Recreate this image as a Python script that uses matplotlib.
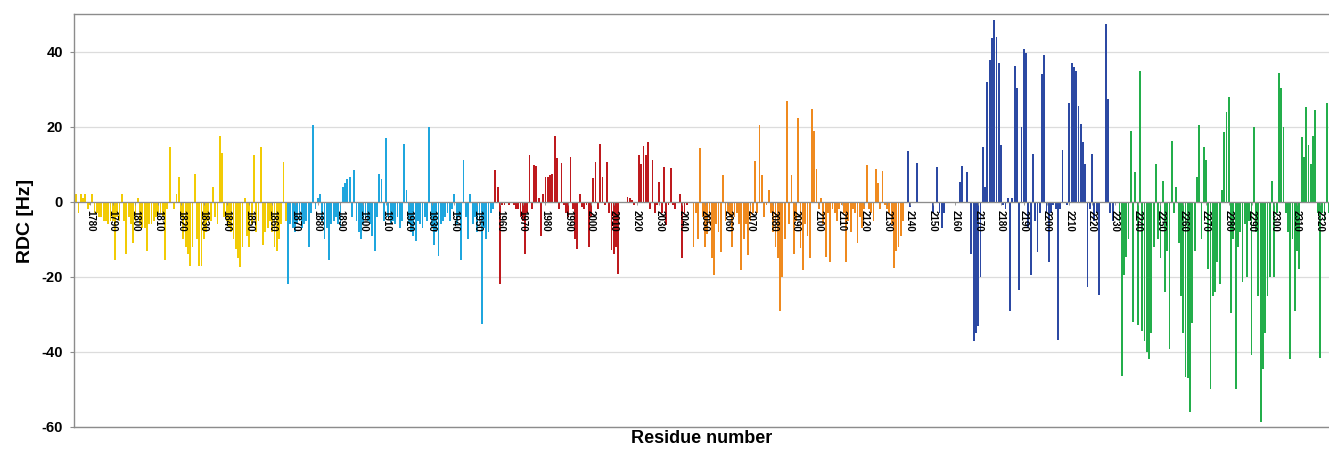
import numpy as np
import matplotlib
matplotlib.use("Agg")
import matplotlib.pyplot as plt

# RDC values (Hz) per residue, one array per domain
yellow_start = 1774
yellow_rdc = [
    2, -3, 2, 1, 2, -2, -1, 2, -3, -3,
    -4, -4, -5, -5, -6, -5, -5, -15.5, -4, -5,
    2, -5, -14, -4, -6, -11, -5, 1, -6, -7,
    -7, -13, -6, -6, -5, -4, -3, -3, -4, -15.5,
    -2, 14.5, 0, -2, 2, 6.5, -4, -10, -12, -14,
    -17, -12, 7.5, -10, -17, -17, -10, -8, -5, -5,
    4, -4, -6, 17.5, 13, -4, -5, -7, -8, -10,
    -12.5, -15, -17.5, -12, 1, -9, -12, -6, 12.5, -8,
    -5, 14.5, -11.5, -8, -7, -5, -8, -12, -13, -10,
    -6, 10.5, -5,
]

lightblue_start = 1867
lightblue_rdc = [
    -22, -6, -7, -8, -6, -5, -7, -6, -5, -12,
    -3, 20.5, -2, 1, 2, -5, -10, -7, -15.5, -6,
    -5, -4, -6, -7, 4, 5, 6, 6.5, -4, 8.5,
    -5, -8, -10, -6, -4, -5, -6, -9, -13, -4,
    7.5, 6, -5, 17, -4, -6, -5, -6, -4, -7,
    -5, 15.5, 3, -6, -8, -9, -10.5, -5, -6, -7,
    -4, -5, 20, -7, -11.5, -8, -14.5, -6, -5, -4,
    -3, -5, -2, 2, -6, -4, -15.5, 11, -4, -10,
    2, -6, -4, -8, -5, -32.5, -7, -10, -8, -3,
    -2,
]

red_start = 1958
red_rdc = [
    8.5, 4, -22, -1, -1, 0, -1, 0, -1, -2,
    -2, -4, -5, -13.8, -3, 12.5, -2, 9.8, 9.5, 1,
    -9, 2, 6.6, 6.5, 7, 7.5, 17.4, 11.6, -2, 10.3,
    -1, -3, -4, 12, -2, -10, -12.6, 2, -1.5, -2,
    -1, -12, -4, 6.3, 10.5, -2, 15.3, 6.5, -1, 10.6,
    -3, -12.9, -14, -12, -19.3, 0, 0, 0, 1.3, 1,
    0.5, -1, 0, 12.4, 10, 14.9, 12.5, 16, -2, 11.2,
    -3, -1, 5.3, -3, 9.2, -6.3, -1, 9, -1, -2,
    0, 2.1, -15, -3, -1, 0, 0,
]

orange_start = 2045
orange_rdc = [
    -12, -3, -10, 14.2, -4, -12, -8.5, -6, -15, -19.6,
    -6, -8, -13.3, 7, -5, -3, -4, -12, -4, -3,
    -6, -18.2, -10, -6, -14.2, -5, -3, 10.9, -3, 20.4,
    7, -4, -1, 3, -3, -8, -12, -15, -29.2, -20,
    -10, 26.9, -6, 7.2, -14, -5, 22.4, -12.4, -18.2, -6,
    -9, -15, 24.6, 18.8, 8.6, -2, 1, -6, -14.6, -3,
    -16, -2, -3, -5, -2, -1, -3, -16, -5, -8,
    -2, -3, -11, -4, -7, -2, 9.8, -2, -3, -5,
    8.7, 5, -2, 8.2, -1, -2, -3, -6, -17.7, -13,
    -12, -9, -5,
]

darkblue_start = 2138
darkblue_rdc = [
    0, 13.5, -1.5, 0, 0, 10.3, 0, 0, 0, 0,
    0, 0, -3, 0, 9.2, -3, -6.9, -3, 0, 0,
    0, 0, 0, 0, 5.3, 9.6, 0, 7.9, 0, -14,
    -37, -35, -33, -20, 14.5, 4, 32, 37.8, 43.6, 48.4,
    44, 37, 15, -1, -2, 1, -29.2, 1, 36.2, 30.4,
    -23.5, 19.8, 40.7, 39.5, -7, -19.5, 12.7, -5, -13.3, -3,
    33.9, 39.2, -3, -16, -3, -1, -2, -36.7, -2, 13.8,
    0, -1, 26.4, 37, 36, 34.7, 25.4, 20.6, 15.8, 10,
    -22.8, -2, 12.7, -5, -3, -24.8, 0, 0, 47.4, 27.4,
    -3, -5, 0, 0,
]

green_start = 2232
green_rdc = [
    -5, -46.4, -19.5, -14.6, -10, 18.8, -32, 7.9, -32.8, 34.7,
    -34.5, -37.2, -40, -42, -35, -12, 10, -10, -15, 5.6,
    -24, -13, -39.3, 16.2, -3, 3.9, -11, -25, -35, -46.8,
    -47, -56, -32.3, -13, 6.5, 20.4, -10, 14.5, 11, -18,
    -50, -25, -24, -16, -22, 3, 18.5, 24, 28, -29.6,
    -10, -50, -12, -8, -21.3, -6, -20, -5, -40.7, 19.8,
    -8, -25, -58.7, -44.6, -35, -25, -20, 5.6, -20, -3,
    34.4, 30.4, 19.8, -3, -8, -42, -10, -29.2, -13, -18,
    17.2, 12, 25.2, 15, 10, 17.5, 24.4, -3, -41.6, -3,
    -5, 26.2, -3,
]

domains = [
    (yellow_start, yellow_rdc, "#F2CB05"),
    (lightblue_start, lightblue_rdc, "#1FA6DE"),
    (red_start, red_rdc, "#BE1A1E"),
    (orange_start, orange_rdc, "#EF8A1F"),
    (darkblue_start, darkblue_rdc, "#2C49A3"),
    (green_start, green_rdc, "#23AE4B"),
]

residue_ticks = list(range(1780, 2321, 10))
y_ticks = [-60, -40, -20, 0, 20, 40]

plt.rcParams["font.family"] = ["Liberation Sans", "DejaVu Sans"]
plt.rcParams["font.weight"] = "bold"

W, H = 1329, 453
fig = plt.figure(figsize=(W / 100, H / 100), dpi=100)
fig.patch.set_facecolor("white")
left, right, top, bottom = 74, 1329, 14, 427
ax = fig.add_axes([left / W, 1 - bottom / H, (right - left) / W, (bottom - top) / H])

for start, vals, col in domains:
    res = np.arange(start, start + len(vals))
    ax.bar(res, vals, width=0.8, color=col, linewidth=0, zorder=2)

ax.set_xlim(1773, 2324)
ax.set_ylim(-60, 50)
ax.set_yticks(y_ticks)
ax.set_yticklabels([str(v) for v in y_ticks], fontsize=10.5, fontweight="bold")
ax.tick_params(axis="y", length=3, width=0.8, color="#8c8c8c", pad=5)
ax.set_xticks([])
ax.yaxis.grid(True, color="#dcdcdc", linewidth=0.9, zorder=0)
ax.set_axisbelow(True)
for side in ("left", "top", "bottom"):
    ax.spines[side].set_color("#8c8c8c")
    ax.spines[side].set_linewidth(1.0)
ax.spines["right"].set_visible(False)

ax.set_ylabel("RDC [Hz]", fontsize=14, fontweight="bold", labelpad=5)
ax.set_xlabel("Residue number", fontsize=13, fontweight="bold", labelpad=2)

# residue labels along the zero line, drawn above the bars
zero_axis = ax.secondary_xaxis(0, transform=ax.transData)
zero_axis.set_zorder(5)
zero_axis.set_xticks(residue_ticks)
zero_axis.set_xticklabels([str(t) for t in residue_ticks], rotation=270,
                          fontsize=7, fontweight="bold")
zero_axis.tick_params(axis="x", length=2, width=0.6, color="#8c8c8c", pad=4)
zero_axis.spines["bottom"].set_color("#8c8c8c")
zero_axis.spines["bottom"].set_linewidth(0.9)

fig.savefig("out.png", dpi=100)
